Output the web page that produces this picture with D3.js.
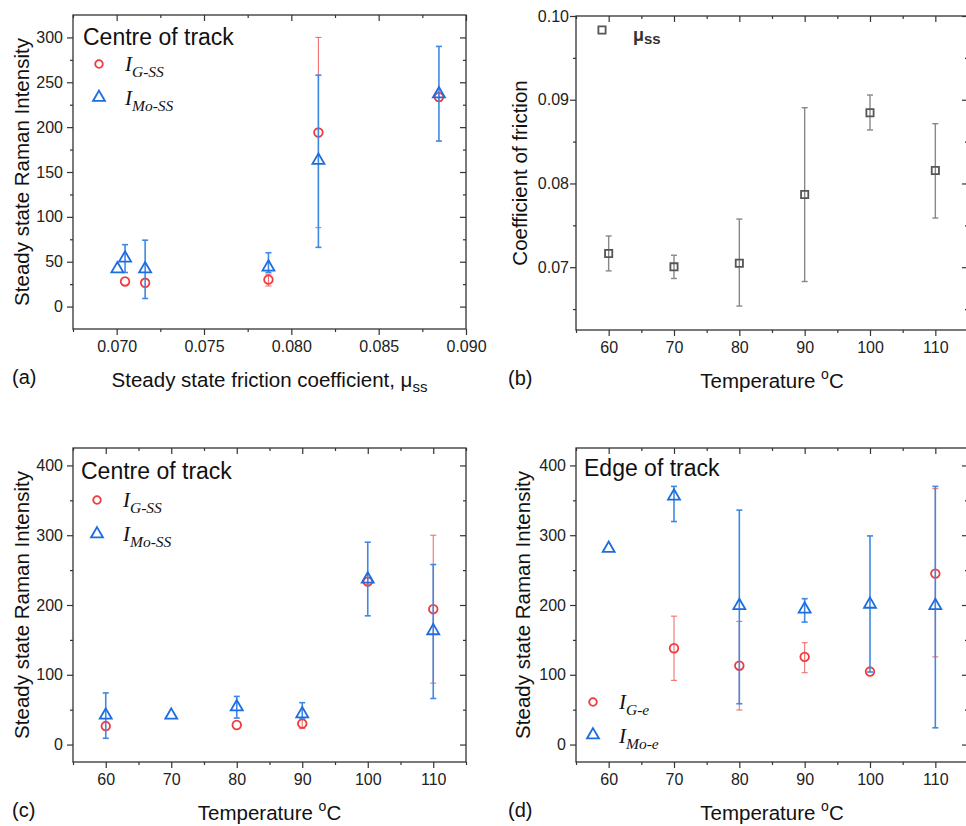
<!DOCTYPE html>
<html>
<head>
<meta charset="utf-8">
<script src="https://cdn.jsdelivr.net/npm/d3@7"></script>
<style>
  body { margin: 0; background: #fff; }
  svg { display: block; }
  .axis path.domain { display: none; }
  .axis line { stroke: #333; stroke-width: 1.2; }
  .axis text { font-family: "Liberation Sans", Arial, sans-serif; font-size: 16px; fill: #222; }
  .lab { font-family: "Liberation Sans", Arial, sans-serif; fill: #111; }
  .leg { font-family: "Liberation Serif", "Times New Roman", serif; font-style: italic; fill: #111; }
</style>
</head>
<body>
<svg id="chart" width="966" height="826"></svg>
<script>
// data
const temps = [60, 70, 80, 90, 100, 110];

const muSS   = [0.07163, 0.07004, 0.07048, 0.07869, 0.08845, 0.08155];
const muLo   = [0.06956, 0.06865, 0.06536, 0.06829, 0.08639, 0.07587];
const muHi   = [0.07373, 0.07143, 0.07575, 0.08905, 0.09056, 0.08714];

// centre of track
const gCentre   = [26.5, null, 28, 30, 233.5, 194];
const gCentreLo = [null, null, null, 23, 229, 88];
const gCentreHi = [null, null, null, 36, 239, 300];
const moCentre   = [42, 42, 54, 44, 237, 163];
const moCentreLo = [9, null, 38, 38, 184.5, 66];
const moCentreHi = [74, null, 69, 60, 290, 258];

// edge of track
const gEdge   = [null, 138, 113, 125.6, 104.6, 245];
const gEdgeLo = [null, 92, 49.5, 103, null, 125.6];
const gEdgeHi = [null, 184, 176.5, 146, null, 366.7];
const moEdge   = [281, 356, 199, 194, 201, 199];
const moEdgeLo = [null, 319.6, 58.5, 175.5, 104, 24];
const moEdgeHi = [null, 370, 336, 209, 299, 370];

// ticks
const muTicks = [0.070, 0.075, 0.080, 0.085, 0.090];
const muMinor = [0.0675, 0.0725, 0.0775, 0.0825, 0.0875];
const tempTicks = [60, 70, 80, 90, 100, 110];
const tempMinor = [55, 65, 75, 85, 95, 105, 115];
const ramanTicksA = [0, 50, 100, 150, 200, 250, 300];
const ramanMinorA = [25, 75, 125, 175, 225, 275];
const ramanTicks = [0, 100, 200, 300, 400];
const ramanMinor = [50, 150, 250, 350];
const cofTicks = [0.07, 0.08, 0.09, 0.10];
const cofMinor = [0.065, 0.075, 0.085, 0.095];

const RED = "#f03c3c", RED_ERR = "#f37070";
const BLUE = "#1c6de0", BLUE_ERR = "#3f88e4";
const GREY = "#555", GREY_ERR = "#888";

const svg = d3.select("#chart");

function panel(p) {
  const x = d3.scaleLinear().domain(p.xDomain).range([p.left, p.right]);
  const y = d3.scaleLinear().domain(p.yDomain).range([p.bottom, p.top]);
  const g = svg.append("g");

  g.append("g").attr("class", "axis").attr("transform", `translate(0,${p.bottom})`)
    .call(d3.axisBottom(x).tickValues(p.xTicks).tickSize(6).tickPadding(6).tickFormat(p.xFmt));
  g.append("g").attr("class", "axis").attr("transform", `translate(0,${p.bottom})`)
    .call(d3.axisBottom(x).tickValues(p.xMinor).tickSize(3).tickFormat(""));
  g.append("g").attr("class", "axis").attr("transform", `translate(0,${p.top})`)
    .call(d3.axisTop(x).tickValues(p.xTicks).tickSize(-6).tickFormat(""));
  g.append("g").attr("class", "axis").attr("transform", `translate(0,${p.top})`)
    .call(d3.axisTop(x).tickValues(p.xMinor).tickSize(-3).tickFormat(""));

  g.append("g").attr("class", "axis").attr("transform", `translate(${p.left},0)`)
    .call(d3.axisLeft(y).tickValues(p.yTicks).tickSize(6).tickPadding(p.yPad).tickFormat(p.yFmt));
  g.append("g").attr("class", "axis").attr("transform", `translate(${p.left},0)`)
    .call(d3.axisLeft(y).tickValues(p.yMinor).tickSize(3).tickFormat(""));
  g.append("g").attr("class", "axis").attr("transform", `translate(${p.right},0)`)
    .call(d3.axisRight(y).tickValues(p.yTicks).tickSize(-6).tickFormat(""));
  g.append("g").attr("class", "axis").attr("transform", `translate(${p.right},0)`)
    .call(d3.axisRight(y).tickValues(p.yMinor).tickSize(-3).tickFormat(""));

  g.append("rect")
    .attr("x", p.left).attr("y", p.top)
    .attr("width", p.right - p.left).attr("height", p.bottom - p.top)
    .attr("fill", "none").attr("stroke", "#333").attr("stroke-width", 1.3);

  // y label
  g.append("text").attr("class", "lab")
    .attr("transform", `translate(${p.yLabelX},${(p.top + p.bottom) / 2}) rotate(-90)`)
    .attr("text-anchor", "middle").style("font-size", "20.5px")
    .text(p.yLabel);

  // x label
  const xl = g.append("text").attr("class", "lab")
    .attr("x", (p.left + p.right) / 2).attr("y", p.bottom + 58)
    .attr("text-anchor", "middle").style("font-size", "20.5px");
  p.xLabel(xl);

  // panel letter
  g.append("text").attr("class", "lab")
    .attr("x", p.letterX).attr("y", p.bottom + 55)
    .style("font-size", "20px").text(p.letter);

  return { g, x, y };
}

function tempLabel(t) {
  t.append("tspan").text("Temperature ");
  t.append("tspan").attr("dy", -9).style("font-size", "14px").text("o");
  t.append("tspan").attr("dy", 9).text("C");
}

function series(c, xs, vals, lo, hi, color, errColor, shape, errWidth) {
  const pts = xs.map((xv, i) => ({ x: xv, v: vals[i], lo: lo[i], hi: hi[i] }));
  const eb = pts.filter(d => d.lo != null && d.hi != null);
  const eg = c.g.append("g").attr("stroke", errColor).attr("stroke-width", errWidth).attr("fill", "none");
  eg.selectAll(".bar").data(eb).join("line")
    .attr("x1", d => c.x(d.x)).attr("x2", d => c.x(d.x))
    .attr("y1", d => c.y(d.lo)).attr("y2", d => c.y(d.hi));
  eg.selectAll(".capl").data(eb).join("line")
    .attr("x1", d => c.x(d.x) - 3).attr("x2", d => c.x(d.x) + 3)
    .attr("y1", d => c.y(d.lo)).attr("y2", d => c.y(d.lo));
  eg.selectAll(".caph").data(eb).join("line")
    .attr("x1", d => c.x(d.x) - 3).attr("x2", d => c.x(d.x) + 3)
    .attr("y1", d => c.y(d.hi)).attr("y2", d => c.y(d.hi));

  c.g.append("g").selectAll("path")
    .data(pts.filter(d => d.v != null)).join("path")
    .attr("transform", d => `translate(${c.x(d.x)},${c.y(d.v)})`)
    .attr("d", shape)
    .attr("fill", "none").attr("stroke", color).attr("stroke-width", 1.8);
}

const circle = d3.symbol(d3.symbolCircle, 58)();
const triangle = d3.symbol(d3.symbolTriangle, 62)();
const square = d3.symbol(d3.symbolSquare, 52)();
const circleSmall = d3.symbol(d3.symbolCircle, 46)();

function legendItem(g, mx, my, shape, color, tx, base, main, sub) {
  g.append("path").attr("transform", `translate(${mx},${my})`).attr("d", shape)
    .attr("fill", "none").attr("stroke", color).attr("stroke-width", 1.8);
  const t = g.append("text").attr("class", "leg").attr("x", tx).attr("y", base).style("font-size", "21px");
  t.append("tspan").text(main);
  t.append("tspan").attr("dy", 6).style("font-size", "15.5px").text(sub);
}

// (a)
const a = panel({
  left: 73, right: 466, top: 15, bottom: 329,
  xDomain: [0.0675, 0.090], yDomain: [-25, 325],
  xTicks: muTicks, xMinor: muMinor, xFmt: d3.format(".3f"),
  yTicks: ramanTicksA, yMinor: ramanMinorA, yFmt: d3.format("d"), yPad: 4,
  yLabel: "Steady state Raman Intensity", yLabelX: 29,
  xLabel: t => {
    t.append("tspan").text("Steady state friction coefficient, μ");
    t.append("tspan").attr("dy", 5).style("font-size", "15px").text("ss");
  },
  letter: "(a)", letterX: 12
});
series(a, muSS, gCentre, gCentreLo, gCentreHi, RED, RED_ERR, circle, 1.1);
series(a, muSS, moCentre, moCentreLo, moCentreHi, BLUE, BLUE_ERR, triangle, 1.6);
a.g.append("text").attr("class", "lab").attr("x", 83).attr("y", 45).style("font-size", "23px").text("Centre of track");
legendItem(a.g, 99, 64, circleSmall, RED, 125, 71, "I", "G-SS");
legendItem(a.g, 99, 97.5, triangle, BLUE, 125, 105, "I", "Mo-SS");

// (b)
const b = panel({
  left: 576, right: 968, top: 16, bottom: 330,
  xDomain: [55, 115], yDomain: [0.0625, 0.10],
  xTicks: tempTicks, xMinor: tempMinor, xFmt: d3.format("d"),
  yTicks: cofTicks, yMinor: cofMinor, yFmt: d3.format(".2f"), yPad: 1,
  yLabel: "Coefficient of friction", yLabelX: 527,
  xLabel: tempLabel,
  letter: "(b)", letterX: 508
});
series(b, temps, muSS, muLo, muHi, GREY, GREY_ERR, square, 1.4);
b.g.append("path").attr("transform", "translate(602,30)").attr("d", square)
  .attr("fill", "none").attr("stroke", GREY).attr("stroke-width", 1.8);
const bl = b.g.append("text").attr("class", "lab").attr("x", 633).attr("y", 41)
  .style("font-size", "18px").style("font-weight", "bold").style("fill", "#333");
bl.append("tspan").text("μ");
bl.append("tspan").attr("dy", 3).style("font-size", "15px").text("ss");

// (c)
const c = panel({
  left: 73, right: 466, top: 448, bottom: 762,
  xDomain: [55, 115], yDomain: [-25, 425],
  xTicks: tempTicks, xMinor: tempMinor, xFmt: d3.format("d"),
  yTicks: ramanTicks, yMinor: ramanMinor, yFmt: d3.format("d"), yPad: 4,
  yLabel: "Steady state Raman Intensity", yLabelX: 29,
  xLabel: tempLabel,
  letter: "(c)", letterX: 12
});
series(c, temps, gCentre, gCentreLo, gCentreHi, RED, RED_ERR, circle, 1.1);
series(c, temps, moCentre, moCentreLo, moCentreHi, BLUE, BLUE_ERR, triangle, 1.6);
c.g.append("text").attr("class", "lab").attr("x", 81).attr("y", 479).style("font-size", "23px").text("Centre of track");
legendItem(c.g, 97, 500, circleSmall, RED, 123, 507, "I", "G-SS");
legendItem(c.g, 97, 534, triangle, BLUE, 123, 541, "I", "Mo-SS");

// (d)
const d = panel({
  left: 576, right: 968, top: 448, bottom: 762,
  xDomain: [55, 115], yDomain: [-25, 425],
  xTicks: tempTicks, xMinor: tempMinor, xFmt: d3.format("d"),
  yTicks: ramanTicks, yMinor: ramanMinor, yFmt: d3.format("d"), yPad: 4,
  yLabel: "Steady state Raman Intensity", yLabelX: 530,
  xLabel: tempLabel,
  letter: "(d)", letterX: 508
});
series(d, temps, gEdge, gEdgeLo, gEdgeHi, RED, RED_ERR, circle, 1.1);
series(d, temps, moEdge, moEdgeLo, moEdgeHi, BLUE, BLUE_ERR, triangle, 1.6);
d.g.append("text").attr("class", "lab").attr("x", 584).attr("y", 476).style("font-size", "23px").text("Edge of track");
legendItem(d.g, 593, 702, circleSmall, RED, 619, 709, "I", "G-e");
legendItem(d.g, 593, 735, triangle, BLUE, 619, 743, "I", "Mo-e");
</script>
</body>
</html>
